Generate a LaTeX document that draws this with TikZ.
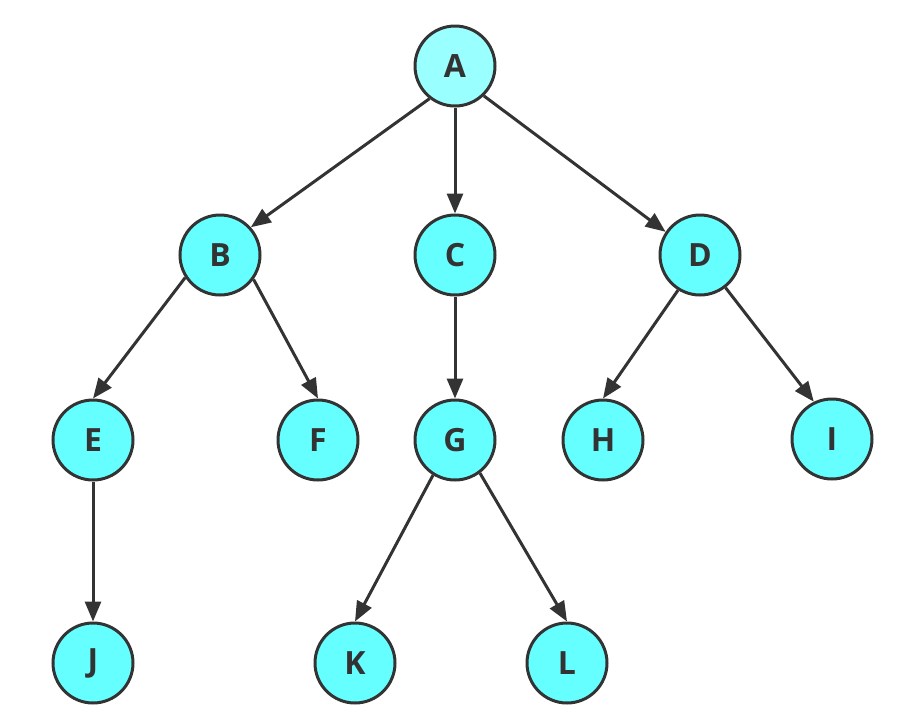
\documentclass[tikz,border=0pt]{standalone}
\usepackage{fontspec}
\setmainfont{Open Sans}
\usetikzlibrary{arrows.meta}
\definecolor{nodefill}{HTML}{66FFFF}
\definecolor{rootfill}{HTML}{99FFFF}
\definecolor{stroke}{HTML}{333333}
\tikzset{
  tnode/.style={circle, draw=stroke, line width=3pt, fill=nodefill, minimum size=80pt, inner sep=0pt, font=\fontsize{32}{36}\selectfont\bfseries, text=stroke},
  edge/.style={draw=stroke, line width=3pt, -{Triangle[length=20pt,width=16pt]}}
}
\begin{document}
\begin{tikzpicture}[x=1pt,y=-1pt]
\useasboundingbox (0,0) rectangle (919,726);
\node[tnode, fill=rootfill] (A) at (455,66) {A};
\node[tnode] (B) at (220,255) {B};
\node[tnode] (C) at (455,255) {C};
\node[tnode] (D) at (700,255) {D};
\node[tnode] (E) at (93,440) {E};
\node[tnode] (F) at (318,440) {F};
\node[tnode] (G) at (455,440) {G};
\node[tnode] (H) at (603,440) {H};
\node[tnode] (I) at (832,439) {I};
\node[tnode] (J) at (93,663) {J};
\node[tnode] (K) at (355,663) {K};
\node[tnode] (L) at (567,663) {L};
\draw[edge] (A.232) -- (B.42);
\draw[edge] (A.270) -- (C.90);
\draw[edge] (A.314) -- (D.146);
\draw[edge] (B.213) -- (E.90);
\draw[edge] (B.324) -- (F.90);
\draw[edge] (C.270) -- (G.90);
\draw[edge] (D.238) -- (H.90);
\draw[edge] (D.308) -- (I.116);
\draw[edge] (E.270) -- (J.90);
\draw[edge] (G.238) -- (K.90);
\draw[edge] (G.307) -- (L.90);
\end{tikzpicture}
\end{document}
